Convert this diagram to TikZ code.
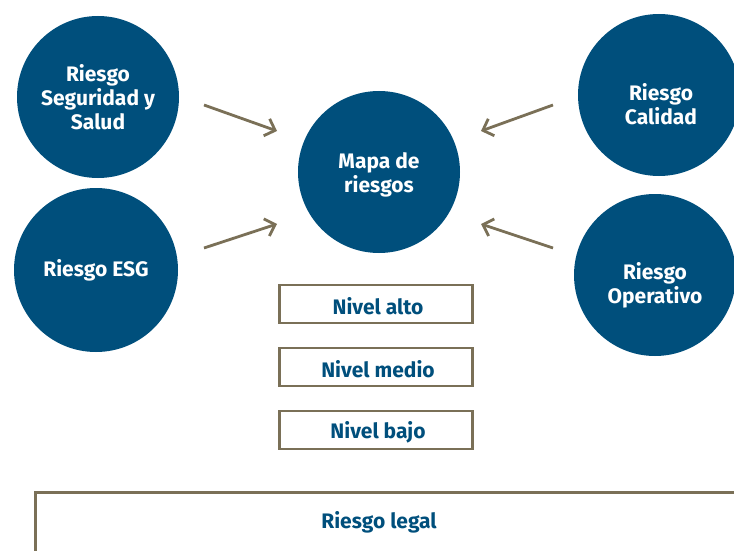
\documentclass[tikz,border=0pt]{standalone}
\usepackage{fontspec}
\setmainfont{Fira Sans}
\usetikzlibrary{arrows.meta}
\definecolor{riskblue}{HTML}{004F7C}
\definecolor{riskline}{HTML}{7A7057}
\begin{document}
\begin{tikzpicture}[x=1pt,y=-1pt,
  circtext/.style={align=center,text=white,font=\fontsize{21}{24}\selectfont\bfseries},
  riskcircle/.style={circle,fill=riskblue,minimum size=162pt,inner sep=0pt,circtext},
  levelbox/.style={draw=riskline,line width=2.6pt,minimum width=193pt,minimum height=38pt,inner sep=0pt},
  leveltext/.style={text=riskblue,font=\fontsize{21}{24}\selectfont\bfseries},
  riskarrow/.style={draw=riskline,line width=2.8pt,-{Straight Barb[length=9pt,width=18pt,line width=2.8pt]}}]
\useasboundingbox (0,0) rectangle (734,551);
\begin{scope}
\clip (0,0) rectangle (734,551);
\node[riskcircle] (seg) at (98,97) {Riesgo\\Seguridad y\\Salud};
\node[riskcircle,minimum size=164pt] (esg) at (96,270) {Riesgo ESG};
\node[riskcircle] (mapa) at (379,172) {};
\node[circtext] (mapatxt) at (379,175) {Mapa de\\riesgos};
\node[riskcircle] (cal) at (659,95) {};
\node[circtext] (caltxt) at (661,104) {Riesgo\\Calidad};
\node[riskcircle] (ope) at (655,275) {};
\node[circtext] (opetxt) at (655,285) {Riesgo\\Operativo};
\node[levelbox] (alto) at (376,304) {};
\node[leveltext] (altotxt) at (378,306) {Nivel alto};
\node[levelbox] (medio) at (376,367) {};
\node[leveltext] (mediotxt) at (378,369) {Nivel medio};
\node[levelbox] (bajo) at (376,430) {};
\node[leveltext] (bajotxt) at (378,432) {Nivel bajo};
\node[draw=riskline,line width=2.6pt,minimum width=720pt,minimum height=100pt,anchor=north west,inner sep=0pt] (legal) at (34,491) {};
\node[leveltext] (legaltxt) at (379,522) {Riesgo legal};
\coordinate (a1s) at (204,105); \coordinate (a1e) at (277,131);
\coordinate (a2s) at (204,248); \coordinate (a2e) at (277,224);
\coordinate (a3s) at (553,105); \coordinate (a3e) at (481,131);
\coordinate (a4s) at (553,248); \coordinate (a4e) at (481,224);
\draw[riskarrow] (a1s) -- (a1e);
\draw[riskarrow] (a2s) -- (a2e);
\draw[riskarrow] (a3s) -- (a3e);
\draw[riskarrow] (a4s) -- (a4e);
\end{scope}
\end{tikzpicture}
\end{document}
